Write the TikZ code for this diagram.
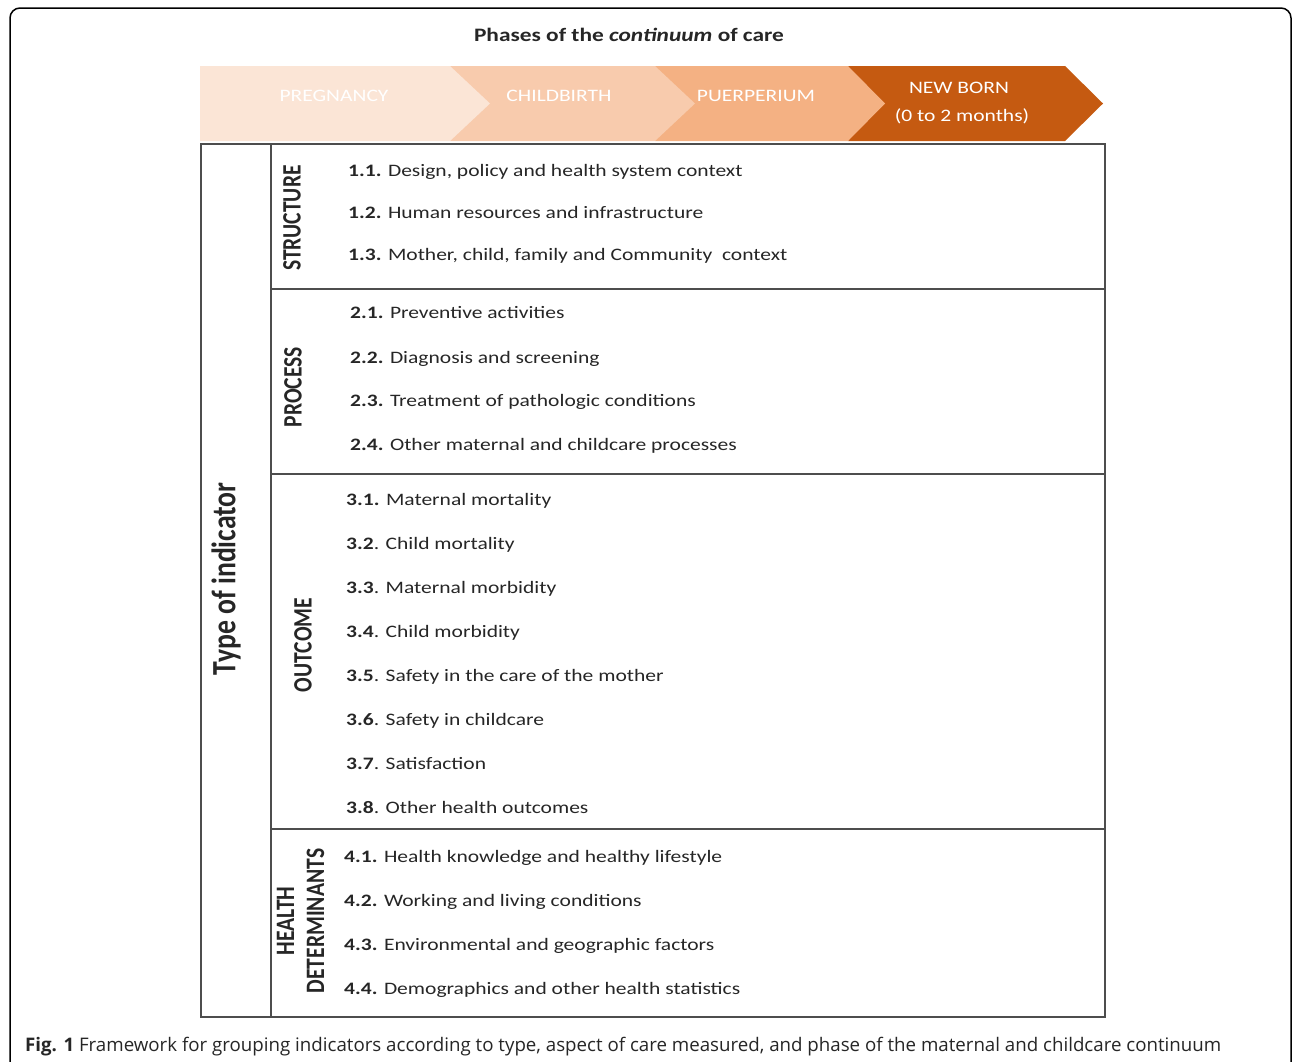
\documentclass[tikz,border=0pt]{standalone}
\usepackage{graphicx}
\usepackage{fontspec}
\setmainfont{Carlito}
\newfontfamily\capfont{Open Sans}
\definecolor{pregc}{HTML}{FBE5D6}
\definecolor{childc}{HTML}{F8CBAD}
\definecolor{puerc}{HTML}{F4B183}
\definecolor{newbc}{HTML}{C55A11}
\definecolor{linec}{HTML}{4D4D4D}
\definecolor{txtc}{HTML}{262626}
\newcommand{\hstr}[1]{\scalebox{1.23}[1]{#1}}
\newcommand{\vstr}[1]{\scalebox{1}[1.23]{#1}}
\begin{document}
\begin{tikzpicture}[x=1pt,y=-1pt,
  rowbox/.style={draw=linec,line width=1.7pt,anchor=north west,inner sep=0pt},
  itemtext/.style={anchor=base west,inner sep=0pt,text=txtc,font=\fontsize{17.5}{21}\selectfont},
  rowlabel/.style={rotate=90,inner sep=0pt,text=txtc,font=\fontsize{21.6}{24.4}\selectfont\bfseries},
  phasetext/.style={text=white,inner sep=0pt,font=\fontsize{17.5}{21}\selectfont}]
\path[use as bounding box] (0,0) rectangle (1292,1061);
\begin{scope}
\clip (0,0) rectangle (1292,1061);
\draw[line width=1.5pt,rounded corners=10pt] (10,1080) -- (10,8) -- (1291,8) -- (1291,1080);
\end{scope}
% title
\node[inner sep=0pt,text=txtc,font=\fontsize{19}{23}\selectfont\bfseries] (title) at (629,35) {\hstr{Phases of the \textit{continuum} of care}};
% chevrons (right to left)
\fill[newbc] (848,66) -- (1065,66) -- (1103,103.5) -- (1065,141) -- (848,141) -- cycle;
\fill[puerc] (655,66) -- (848,66) -- (885,103.5) -- (848,141) -- (655,141) -- cycle;
\fill[childc] (450,66) -- (655,66) -- (695,103.5) -- (655,141) -- (450,141) -- cycle;
\fill[pregc] (200,66) -- (450,66) -- (490,103.5) -- (450,141) -- (200,141) -- cycle;
\node[phasetext] (preg) at (334,96) {\hstr{PREGNANCY}};
\node[phasetext] (child) at (559,96) {\hstr{CHILDBIRTH}};
\node[phasetext] (puer) at (756,96) {\hstr{PUERPERIUM}};
\node[phasetext] (newb1) at (959,88) {\hstr{NEW BORN}};
\node[phasetext] (newb2) at (962,116) {\hstr{(0 to 2 months)}};
% boxes
\node[rowbox,minimum width=70pt,minimum height=873pt] (typebox) at (200,143) {};
\node[rowbox,minimum width=834pt,minimum height=145pt] (structbox) at (270,143) {};
\node[rowbox,minimum width=834pt,minimum height=185pt] (procbox) at (270,288) {};
\node[rowbox,minimum width=834pt,minimum height=355pt] (outbox) at (270,473) {};
\node[rowbox,minimum width=834pt,minimum height=188pt] (healthbox) at (270,828) {};
% labels
\node[rotate=90,inner sep=0pt,text=txtc,font=\fontsize{27.7}{30}\selectfont\bfseries] (type) at (226,579) {\vstr{Type of indicator}};
\node[rowlabel] (lstruct) at (292,218) {\vstr{STRUCTURE}};
\node[rowlabel] (lproc) at (293,387) {\vstr{PROCESS}};
\node[rowlabel] (lout) at (303,645) {\vstr{OUTCOME}};
\node[rowlabel] (lhealth) at (303,921) {\vstr{\renewcommand{\arraystretch}{1}\begin{tabular}{@{}c@{}}HEALTH\\DETERMINANTS\end{tabular}}};
% items
\node[itemtext] (i11) at (348,176) {\hstr{\textbf{1.1.} Design, policy and health system context}};
\node[itemtext] (i12) at (348,218) {\hstr{\textbf{1.2.} Human resources and infrastructure}};
\node[itemtext] (i13) at (348,260) {\hstr{\textbf{1.3.} Mother, child, family and Community\ \ context}};
\node[itemtext] (i21) at (350,318) {\hstr{\textbf{2.1.} Preventive activities}};
\node[itemtext] (i22) at (350,363) {\hstr{\textbf{2.2.} Diagnosis and screening}};
\node[itemtext] (i23) at (350,406) {\hstr{\textbf{2.3.} Treatment of pathologic conditions}};
\node[itemtext] (i24) at (350,450) {\hstr{\textbf{2.4.} Other maternal and childcare processes}};
\node[itemtext] (i31) at (346,505) {\hstr{\textbf{3.1.} Maternal mortality}};
\node[itemtext] (i32) at (346,549) {\hstr{\textbf{3.2}. Child mortality}};
\node[itemtext] (i33) at (346,593) {\hstr{\textbf{3.3}. Maternal morbidity}};
\node[itemtext] (i34) at (346,637) {\hstr{\textbf{3.4}. Child morbidity}};
\node[itemtext] (i35) at (346,681) {\hstr{\textbf{3.5}. Safety in the care of the mother}};
\node[itemtext] (i36) at (346,725) {\hstr{\textbf{3.6}. Safety in childcare}};
\node[itemtext] (i37) at (346,769) {\hstr{\textbf{3.7}. Satisfaction}};
\node[itemtext] (i38) at (346,813) {\hstr{\textbf{3.8}. Other health outcomes}};
\node[itemtext] (i41) at (344,862) {\hstr{\textbf{4.1.} Health knowledge and healthy lifestyle}};
\node[itemtext] (i42) at (344,906) {\hstr{\textbf{4.2.} Working and living conditions}};
\node[itemtext] (i43) at (344,950) {\hstr{\textbf{4.3.} Environmental and geographic factors}};
\node[itemtext] (i44) at (344,994) {\hstr{\textbf{4.4.} Demographics and other health statistics}};
% caption
\node[anchor=base west,inner sep=0pt,text=txtc,font=\capfont\fontsize{18.7}{22}\selectfont] (caption) at (25,1051) {\textbf{Fig. 1} Framework for grouping indicators according to type, aspect of care measured, and phase of the maternal and childcare continuum};
\end{tikzpicture}
\end{document}
